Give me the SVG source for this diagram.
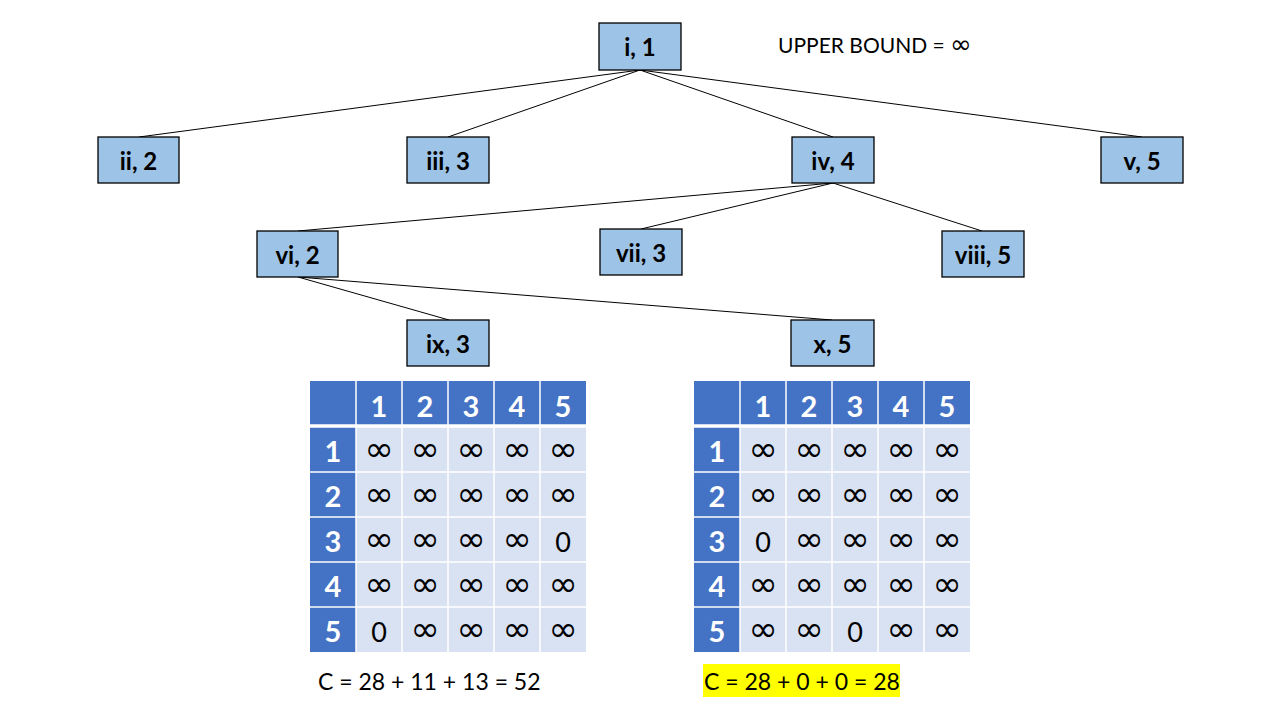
<svg xmlns="http://www.w3.org/2000/svg" width="1280" height="720" viewBox="0 0 1280 720">
<style>
.node rect{fill:#9DC3E6;stroke:#000;stroke-width:1.3}
.node text{font-family:Lato,"Liberation Sans",sans-serif;font-weight:bold;font-size:24px;fill:#000;text-anchor:middle;dominant-baseline:central}
.edges line{stroke:#000;stroke-width:1}
.hd{fill:#4472C4}
.cl{fill:#D9E2F3}
.ht{font-family:Lato,"Liberation Sans",sans-serif;font-weight:bold;font-size:29px;fill:#fff;text-anchor:middle;dominant-baseline:central}
.ct{font-family:Lato,"DejaVu Sans",sans-serif;font-size:27px;fill:#000;text-anchor:middle;dominant-baseline:central}
.ct .i{font-family:"DejaVu Sans",sans-serif;font-size:35px}
.lbl{font-family:Lato,"Liberation Sans",sans-serif;font-size:23px;fill:#000}
</style>
<rect width="1280" height="720" fill="#fff"/>
<g class="edges" id="connectors">
<line x1="640" y1="70" x2="139" y2="137"/>
<line x1="640" y1="70" x2="448" y2="137"/>
<line x1="640" y1="70" x2="833" y2="137"/>
<line x1="640" y1="70" x2="1142" y2="137"/>
<line x1="833" y1="183" x2="298" y2="231"/>
<line x1="833" y1="183" x2="641" y2="229"/>
<line x1="833" y1="183" x2="982" y2="231"/>
<line x1="298" y1="277" x2="449" y2="320"/>
<line x1="298" y1="277" x2="832" y2="320"/>
</g>
<g class="node" id="n-i"><rect x="599" y="23" width="82" height="47"/><text x="640" y="46.5">i, 1</text></g>
<g class="node" id="n-ii"><rect x="98" y="137" width="81" height="46"/><text x="138.5" y="160">ii, 2</text></g>
<g class="node" id="n-iii"><rect x="407" y="137" width="82" height="46"/><text x="448" y="160">iii, 3</text></g>
<g class="node" id="n-iv"><rect x="792" y="137" width="82" height="46"/><text x="833" y="160">iv, 4</text></g>
<g class="node" id="n-v"><rect x="1101" y="137" width="82" height="46"/><text x="1142" y="160">v, 5</text></g>
<g class="node" id="n-vi"><rect x="257" y="231" width="81" height="46"/><text x="297.5" y="254">vi, 2</text></g>
<g class="node" id="n-vii"><rect x="600" y="229" width="82" height="46"/><text x="641" y="252">vii, 3</text></g>
<g class="node" id="n-viii"><rect x="942" y="231" width="82" height="46"/><text x="983" y="254">viii, 5</text></g>
<g class="node" id="n-ix"><rect x="407" y="320" width="82" height="46"/><text x="448" y="343">ix, 3</text></g>
<g class="node" id="n-x"><rect x="791" y="320" width="83" height="46"/><text x="832.5" y="343">x, 5</text></g>
<text class="lbl" x="778" y="53" style="font-size:21px">UPPER BOUND = <tspan style="font-family:'DejaVu Sans',sans-serif;font-size:26px">∞</tspan></text>

<g id="table-left">
<rect class="hd" x="310" y="381" width="276" height="44"/>
<rect class="hd" x="310" y="427" width="46" height="225"/>
<rect class="cl" x="356" y="427" width="230" height="225"/>
<g stroke="#fff" stroke-width="1.5">
<line x1="356" y1="381" x2="356" y2="652"/><line x1="402" y1="381" x2="402" y2="652"/><line x1="448" y1="381" x2="448" y2="652"/><line x1="494" y1="381" x2="494" y2="652"/><line x1="540" y1="381" x2="540" y2="652"/>
<line x1="310" y1="426" x2="586" y2="426" stroke-width="3.5"/>
<line x1="310" y1="472" x2="586" y2="472"/><line x1="310" y1="517" x2="586" y2="517"/><line x1="310" y1="562" x2="586" y2="562"/><line x1="310" y1="607" x2="586" y2="607"/>
</g>
<g class="ht"><text x="379" y="405">1</text><text x="425" y="405">2</text><text x="471" y="405">3</text><text x="517" y="405">4</text><text x="563" y="405">5</text>
<text x="333" y="450">1</text><text x="333" y="495">2</text><text x="333" y="540">3</text><text x="333" y="585">4</text><text x="333" y="630">5</text></g>
<g class="ct">
<text class="i" x="379" y="449">∞</text><text class="i" x="425" y="449">∞</text><text class="i" x="471" y="449">∞</text><text class="i" x="517" y="449">∞</text><text class="i" x="563" y="449">∞</text>
<text class="i" x="379" y="494">∞</text><text class="i" x="425" y="494">∞</text><text class="i" x="471" y="494">∞</text><text class="i" x="517" y="494">∞</text><text class="i" x="563" y="494">∞</text>
<text class="i" x="379" y="539">∞</text><text class="i" x="425" y="539">∞</text><text class="i" x="471" y="539">∞</text><text class="i" x="517" y="539">∞</text><text x="563" y="541">0</text>
<text class="i" x="379" y="584">∞</text><text class="i" x="425" y="584">∞</text><text class="i" x="471" y="584">∞</text><text class="i" x="517" y="584">∞</text><text class="i" x="563" y="584">∞</text>
<text x="379" y="631">0</text><text class="i" x="425" y="629">∞</text><text class="i" x="471" y="629">∞</text><text class="i" x="517" y="629">∞</text><text class="i" x="563" y="629">∞</text>
</g>
</g>

<g id="table-right">
<rect class="hd" x="694" y="381" width="276" height="44"/>
<rect class="hd" x="694" y="427" width="46" height="225"/>
<rect class="cl" x="740" y="427" width="230" height="225"/>
<g stroke="#fff" stroke-width="1.5">
<line x1="740" y1="381" x2="740" y2="652"/><line x1="786" y1="381" x2="786" y2="652"/><line x1="832" y1="381" x2="832" y2="652"/><line x1="878" y1="381" x2="878" y2="652"/><line x1="924" y1="381" x2="924" y2="652"/>
<line x1="694" y1="426" x2="970" y2="426" stroke-width="3.5"/>
<line x1="694" y1="472" x2="970" y2="472"/><line x1="694" y1="517" x2="970" y2="517"/><line x1="694" y1="562" x2="970" y2="562"/><line x1="694" y1="607" x2="970" y2="607"/>
</g>
<g class="ht"><text x="763" y="405">1</text><text x="809" y="405">2</text><text x="855" y="405">3</text><text x="901" y="405">4</text><text x="947" y="405">5</text>
<text x="717" y="450">1</text><text x="717" y="495">2</text><text x="717" y="540">3</text><text x="717" y="585">4</text><text x="717" y="630">5</text></g>
<g class="ct">
<text class="i" x="763" y="449">∞</text><text class="i" x="809" y="449">∞</text><text class="i" x="855" y="449">∞</text><text class="i" x="901" y="449">∞</text><text class="i" x="947" y="449">∞</text>
<text class="i" x="763" y="494">∞</text><text class="i" x="809" y="494">∞</text><text class="i" x="855" y="494">∞</text><text class="i" x="901" y="494">∞</text><text class="i" x="947" y="494">∞</text>
<text x="763" y="541">0</text><text class="i" x="809" y="539">∞</text><text class="i" x="855" y="539">∞</text><text class="i" x="901" y="539">∞</text><text class="i" x="947" y="539">∞</text>
<text class="i" x="763" y="584">∞</text><text class="i" x="809" y="584">∞</text><text class="i" x="855" y="584">∞</text><text class="i" x="901" y="584">∞</text><text class="i" x="947" y="584">∞</text>
<text class="i" x="763" y="629">∞</text><text class="i" x="809" y="629">∞</text><text x="855" y="631">0</text><text class="i" x="901" y="629">∞</text><text class="i" x="947" y="629">∞</text>
</g>
</g>

<text class="lbl" x="318" y="690">C = 28 + 11 + 13 = 52</text>
<rect x="703" y="664" width="197" height="33" fill="#FFFF00"/>
<text class="lbl" x="704" y="690">C = 28 + 0 + 0 = 28</text>
</svg>
